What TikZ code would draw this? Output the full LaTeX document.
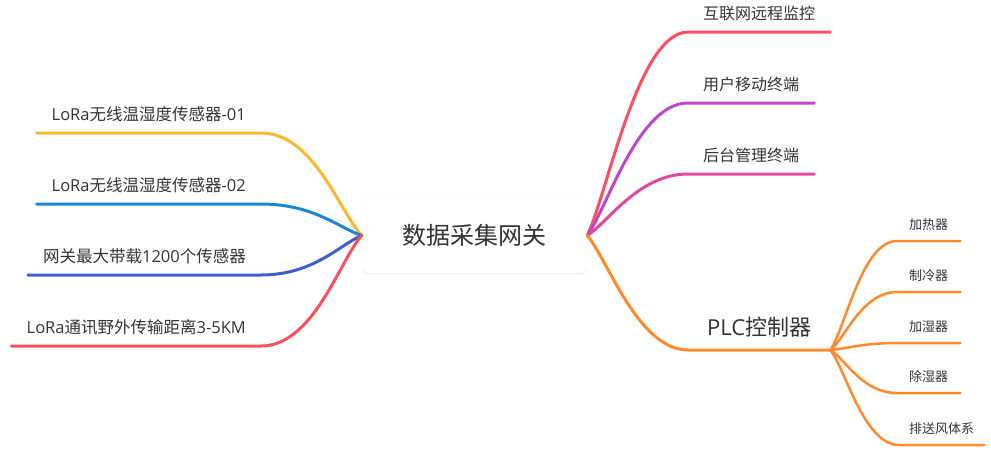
\documentclass[tikz,border=0pt]{standalone}
\usepackage{fontspec}
\setmainfont{Noto Sans CJK SC}
\newfontfamily\lat{Open Sans}
\usetikzlibrary{shadows}

\definecolor{textgray}{HTML}{333333}
\definecolor{lyellow}{HTML}{FBB82C}
\definecolor{lblue}{HTML}{1B86D0}
\definecolor{ldarkblue}{HTML}{3F5EC6}
\definecolor{lred}{HTML}{FA505C}
\definecolor{rred}{HTML}{FF4D62}
\definecolor{rpurple}{HTML}{BF45CC}
\definecolor{rmagenta}{HTML}{E0489F}
\definecolor{plcorange}{HTML}{FF8A2E}

\begin{document}
\begin{tikzpicture}[x=1pt, y=-1pt,
    branch/.style={line width=3pt, line cap=round},
    twig/.style={line width=2.5pt, line cap=round, draw=plcorange},
    leaf/.style={inner xsep=15pt, inner ysep=0pt, text depth=12pt, text=textgray,
      font=\fontsize{16.5}{16.5}\selectfont},
    twigleaf/.style={inner xsep=12pt, inner ysep=0pt, text depth=11pt, text=textgray,
      font=\fontsize{13}{13}\selectfont},
  ]
  \useasboundingbox (0,0) rectangle (991,455);

  % 中心
  \node[fill=white, draw=black!4, rounded corners=6pt, minimum width=225pt, minimum height=75pt,
    drop shadow={shadow xshift=0pt, shadow yshift=-1.5pt, opacity=0.12},
    text=textgray, font=\fontsize{24}{24}\selectfont] (gw) at (474.5,235.5) {数据采集网关};

  % 左側の枝
  \node[leaf, anchor=south east] (s1) at (261,133) {{\lat LoRa}无线温湿度传感器{\lat -01}};
  \node[leaf, anchor=south east] (s2) at (261,204) {{\lat LoRa}无线温湿度传感器{\lat -02}};
  \node[leaf, anchor=south east] (s3) at (261,275) {网关最大带载{\lat 1200}个传感器};
  \node[leaf, anchor=south east] (s4) at (261,346) {{\lat LoRa}通讯野外传输距离{\lat 3-5KM}};

  \draw[branch, lyellow] (gw.west) .. controls +(-22,-23) and +(53,0) .. (s1.south east) -- (s1.south west);
  \draw[branch, lblue] (gw.west) .. controls +(-22,-7) and +(53,0) .. (s2.south east) -- (s2.south west);
  \draw[branch, ldarkblue] (gw.west) .. controls +(-22,9) and +(53,0) .. (s3.south east) -- (s3.south west);
  \draw[branch, lred] (gw.west) .. controls +(-22,24) and +(53,0) .. (s4.south east) -- (s4.south west);

  % 右側の枝
  \node[leaf, anchor=south west, font=\fontsize{16}{16}\selectfont] (r1) at (688,32) {互联网远程监控};
  \node[leaf, anchor=south west, font=\fontsize{16}{16}\selectfont] (r2) at (688,103) {用户移动终端};
  \node[leaf, anchor=south west, font=\fontsize{16}{16}\selectfont] (r3) at (688,174) {后台管理终端};
  \node[leaf, anchor=south west, text depth=14pt, minimum width=142pt,
    font=\fontsize{22}{22}\selectfont] (plc) at (688,350) {{\lat PLC}控制器};

  \draw[branch, rred] (gw.east) .. controls +(20,-41) and +(-50,0) .. (r1.south west) -- (r1.south east);
  \draw[branch, rpurple] (gw.east) .. controls +(20,-27) and +(-50,0) .. (r2.south west) -- (r2.south east);
  \draw[branch, rmagenta] (gw.east) .. controls +(20,-12) and +(-50,0) .. (r3.south west) -- (r3.south east);
  \draw[branch, plcorange] (gw.east) .. controls +(20,23) and +(-50,0) .. (plc.south west) -- (plc.south east);

  % PLCの要素
  \node[twigleaf, anchor=south west] (p1) at (897,241) {加热器};
  \node[twigleaf, anchor=south west] (p2) at (897,292) {制冷器};
  \node[twigleaf, anchor=south west] (p3) at (897,343) {加湿器};
  \node[twigleaf, anchor=south west] (p4) at (897,393) {除湿器};
  \node[twigleaf, anchor=south west, inner xsep=10pt] (p5) at (899,445) {排送风体系};

  \draw[twig] (plc.south east) .. controls +(15,-22) and +(-35,0) .. (p1.south west) -- (p1.south east);
  \draw[twig] (plc.south east) .. controls +(15,-12) and +(-35,0) .. (p2.south west) -- (p2.south east);
  \draw[twig] (plc.south east) .. controls +(15,-1) and +(-35,0) .. (p3.south west) -- (p3.south east);
  \draw[twig] (plc.south east) .. controls +(15,9) and +(-35,0) .. (p4.south west) -- (p4.south east);
  \draw[twig] (plc.south east) .. controls +(15,19) and +(-35,0) .. (p5.south west) -- (p5.south east);
\end{tikzpicture}
\end{document}
